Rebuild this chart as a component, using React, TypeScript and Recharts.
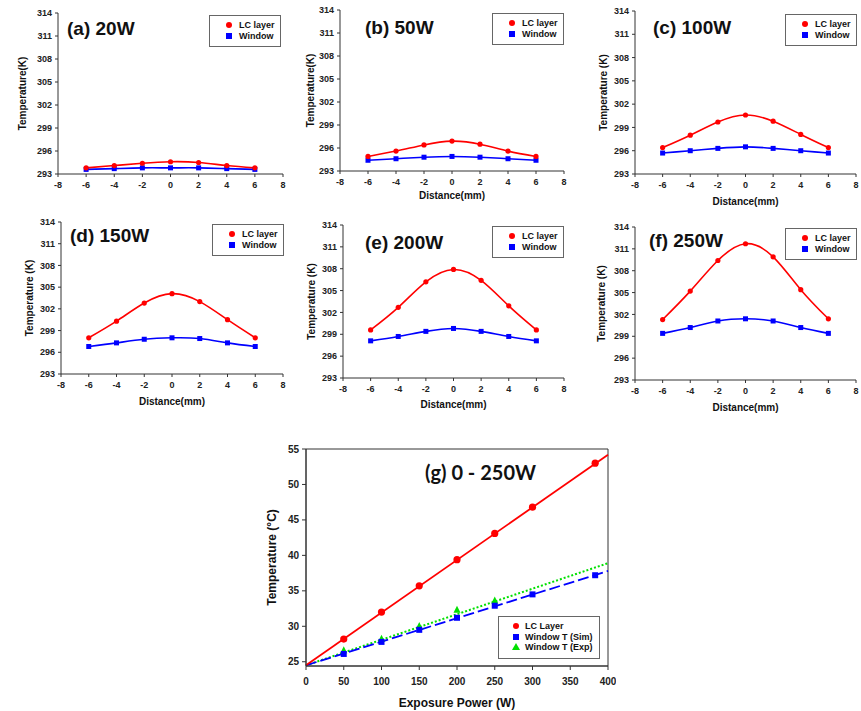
import React from "react";
import { LineChart, Line, XAxis, YAxis, Legend, ReferenceArea } from "recharts";

// ---- data ----
const distance = [-6, -4, -2, 0, 2, 4, 6];
const distanceTicks = [-8, -6, -4, -2, 0, 2, 4, 6, 8];
const kelvinTicks = [293, 296, 299, 302, 305, 308, 311, 314];

const lc20 = [293.8, 294.1, 294.4, 294.6, 294.5, 294.1, 293.8];
const win20 = [293.6, 293.7, 293.8, 293.8, 293.8, 293.7, 293.6];
const lc50 = [294.9, 295.6, 296.4, 296.9, 296.5, 295.6, 294.9];
const win50 = [294.4, 294.6, 294.8, 294.9, 294.8, 294.6, 294.4];
const lc100 = [296.4, 298.0, 299.7, 300.6, 299.8, 298.1, 296.4];
const win100 = [295.7, 296.0, 296.3, 296.5, 296.3, 296.0, 295.7];
const lc150 = [298.0, 300.3, 302.8, 304.1, 303.0, 300.5, 298.0];
const win150 = [296.8, 297.3, 297.8, 298.0, 297.9, 297.3, 296.8];
const lc200 = [299.6, 302.7, 306.2, 307.9, 306.4, 302.9, 299.6];
const win200 = [298.1, 298.7, 299.4, 299.8, 299.4, 298.7, 298.1];
const lc250 = [301.3, 305.2, 309.4, 311.7, 309.9, 305.4, 301.4];
const win250 = [299.4, 300.2, 301.1, 301.4, 301.1, 300.2, 299.4];

const power = [50, 100, 150, 200, 250, 300, 383];
const lcPower = [28.2, 32.0, 35.7, 39.4, 43.1, 46.8, 53.0];
const winSim = [26.1, 27.8, 29.5, 31.2, 32.9, 34.5, 37.2];
const expPower = [50, 100, 150, 200, 250];
const winExp = [26.6, 28.2, 30.0, 32.3, 33.6];
// trend lines, end points
const fitX = [0, 400];
const lcFit = [24.5, 54.2];
const simFit = [24.5, 37.8];
const expFit = [24.5, 38.9];
const powerTicks = [0, 50, 100, 150, 200, 250, 300, 350, 400];
const celsiusTicks = [25, 30, 35, 40, 45, 50, 55];

const FONT = '"Liberation Sans", Arial, sans-serif';
const RED = "#ff0000";
const BLUE = "#0000ff";
const GREEN = "#00e000";
const AXIS = "#333";

// layout of the six profile panels (plot rectangles in page px)
const panels = [
  { title: "(a) 20W", lc: lc20, win: win20, l: 58, r: 283, t: 13, b: 174, yTitle: "Temperature(K)", yDx: 36, xDy: 0, titleX: 67, titleY: 28, legX: 209, legY: 15 },
  { title: "(b) 50W", lc: lc50, win: win50, l: 340, r: 564, t: 10, b: 171, yTitle: "Temperature(K)", yDx: 30, xDy: 24, titleX: 365, titleY: 27, legX: 492, legY: 13 },
  { title: "(c) 100W", lc: lc100, win: win100, l: 635, r: 856, t: 11, b: 174, yTitle: "Temperature (K)", yDx: 32, xDy: 27, titleX: 653, titleY: 27, legX: 785, legY: 14 },
  { title: "(d) 150W", lc: lc150, win: win150, l: 61, r: 283, t: 222, b: 374, yTitle: "Temperature (K)", yDx: 32, xDy: 27, titleX: 70, titleY: 235, legX: 212, legY: 224 },
  { title: "(e) 200W", lc: lc200, win: win200, l: 343, r: 564, t: 225, b: 378, yTitle: "Temperature (K)", yDx: 32, xDy: 26, titleX: 365, titleY: 242, legX: 492, legY: 226 },
  { title: "(f) 250W", lc: lc250, win: win250, l: 635, r: 856, t: 227, b: 380, yTitle: "Temperature (K)", yDx: 34, xDy: 27, titleX: 649, titleY: 240, legX: 785, legY: 228 },
];

const circleDot = (r: number, color: string) => (props: any) => {
  if (props.cx == null || props.cy == null) return <g key={`c${props.index}`} />;
  return <circle key={`c${props.index}`} cx={props.cx} cy={props.cy} r={r} fill={color} />;
};
const squareDot = (s: number, color: string) => (props: any) => {
  if (props.cx == null || props.cy == null) return <g key={`s${props.index}`} />;
  return <rect key={`s${props.index}`} x={props.cx - s / 2} y={props.cy - s / 2} width={s} height={s} fill={color} />;
};
const triDot = (s: number, color: string) => (props: any) => {
  if (props.cx == null || props.cy == null) return <g key={`t${props.index}`} />;
  const { cx, cy } = props;
  const pts = `${cx},${cy - s * 0.6} ${cx - s / 2},${cy + s * 0.4} ${cx + s / 2},${cy + s * 0.4}`;
  return <polygon key={`t${props.index}`} points={pts} fill={color} />;
};

function Marker({ kind, color }: { kind: string; color: string }) {
  return (
    <svg width={8} height={8} style={{ display: "block" }}>
      {kind === "circle" && <circle cx={4} cy={4} r={3} fill={color} />}
      {kind === "square" && <rect x={1} y={1} width={6} height={6} fill={color} />}
      {kind === "tri" && <polygon points="4,0 0,7 8,7" fill={color} />}
    </svg>
  );
}

function LegendBox({ items, width, padL, gap }: any) {
  return (
    <div
      style={{
        width,
        boxSizing: "border-box",
        border: "1px solid #666",
        background: "#fff",
        padding: `4px 4px 5px ${padL}px`,
        fontFamily: FONT,
        fontWeight: "bold",
        fontSize: 9,
        lineHeight: "10.5px",
        color: "#111",
      }}
    >
      {items.map((it: any) => (
        <div key={it.name} style={{ display: "flex", alignItems: "center" }}>
          <Marker kind={it.kind} color={it.color} />
          <span style={{ marginLeft: gap }}>{it.name}</span>
        </div>
      ))}
    </div>
  );
}

const tickStyle = { fontSize: 9, fontWeight: "bold", fill: "#222", fontFamily: FONT };

function ProfilePanel({ p }: { p: (typeof panels)[number] }) {
  const YW = 58, MT = 8, MR = 5, XH = 36;
  const w = p.r - p.l + YW + MR;
  const h = p.b - p.t + MT + XH;
  const left = p.l - YW;
  const top = p.t - MT;
  const data = distance.map((d, i) => ({ d, lc: p.lc[i], win: p.win[i] }));
  return (
    <>
      <div style={{ position: "absolute", left, top }}>
        <LineChart width={w} height={h} data={data} margin={{ top: MT, right: MR, left: 0, bottom: 0 }}>
          <XAxis
            type="number"
            dataKey="d"
            domain={[-8, 8]}
            ticks={distanceTicks}
            height={XH}
            tickSize={3}
            tickMargin={5}
            stroke={AXIS}
            tick={tickStyle}
            label={
              p.xDy
                ? {
                    value: "Distance(mm)",
                    position: "insideBottom",
                    offset: XH - (p.xDy + 3.5),
                    style: { fontSize: 10, fontWeight: "bold", fill: "#111", fontFamily: FONT },
                  }
                : undefined
            }
          />
          <YAxis
            type="number"
            domain={[293, 314]}
            ticks={kelvinTicks}
            width={YW}
            tickSize={3}
            tickMargin={3}
            stroke={AXIS}
            tick={tickStyle}
            label={{
              value: p.yTitle,
              angle: -90,
              position: "insideLeft",
              offset: YW - p.yDx,
              style: { textAnchor: "middle", fontSize: 10, fontWeight: "bold", fill: "#111", fontFamily: FONT },
            }}
          />
          <Legend
            layout="vertical"
            align="center"
            verticalAlign="middle"
            wrapperStyle={{ left: p.legX - left, top: p.legY - top, width: 72 }}
            content={() => (
              <LegendBox
                width={72}
                padL={15}
                gap={6}
                items={[
                  { name: "LC layer", kind: "circle", color: RED },
                  { name: "Window", kind: "square", color: BLUE },
                ]}
              />
            )}
          />
          <Line type="natural" dataKey="win" stroke={BLUE} strokeWidth={1.6} dot={squareDot(5, BLUE)} isAnimationActive={false} />
          <Line type="natural" dataKey="lc" stroke={RED} strokeWidth={1.6} dot={circleDot(2.6, RED)} isAnimationActive={false} />
        </LineChart>
      </div>
      <div
        style={{
          position: "absolute",
          left: p.titleX,
          top: p.titleY - 9,
          fontFamily: FONT,
          fontWeight: "bold",
          fontSize: 19,
          lineHeight: "19px",
          color: "#111",
          whiteSpace: "nowrap",
        }}
      >
        {p.title}
      </div>
    </>
  );
}

function PowerPanel() {
  const L = 306, R = 608, T = 449, B = 666;
  const YW = 50, MT = 8, MR = 8, XH = 46;
  const left = L - YW;
  const top = T - MT;
  const lcPts = power.map((x, i) => ({ x, y: lcPower[i] }));
  const simPts = power.map((x, i) => ({ x, y: winSim[i] }));
  const expPts = expPower.map((x, i) => ({ x, y: winExp[i] }));
  const lcLine = fitX.map((x, i) => ({ x, y: lcFit[i] }));
  const simLine = fitX.map((x, i) => ({ x, y: simFit[i] }));
  const expLine = fitX.map((x, i) => ({ x, y: expFit[i] }));
  const gTick = { fontSize: 10, fontWeight: "bold", fill: "#222", fontFamily: FONT };
  return (
    <>
      <div style={{ position: "absolute", left, top }}>
        <LineChart width={R - L + YW + MR} height={B - T + MT + XH} margin={{ top: MT, right: MR, left: 0, bottom: 0 }}>
          <XAxis
            type="number"
            dataKey="x"
            domain={[0, 400]}
            ticks={powerTicks}
            height={XH}
            tickSize={4}
            tickMargin={8}
            stroke={AXIS}
            tick={gTick}
            label={{
              value: "Exposure Power (W)",
              position: "insideBottom",
              offset: XH - 41,
              style: { fontSize: 12, fontWeight: "bold", fill: "#111", fontFamily: FONT },
            }}
          />
          <YAxis
            type="number"
            domain={[24.4, 55]}
            ticks={celsiusTicks}
            width={YW}
            tickSize={4}
            tickMargin={3}
            stroke={AXIS}
            tick={gTick}
            label={{
              value: "Temperature (°C)",
              angle: -90,
              position: "insideLeft",
              offset: YW - 34,
              style: { textAnchor: "middle", fontSize: 12, fontWeight: "bold", fill: "#111", fontFamily: FONT },
            }}
          />
          <ReferenceArea x1={0} x2={400} y1={24.4} y2={55} fill="none" stroke={AXIS} strokeWidth={1} ifOverflow="visible" />
          <Legend
            layout="vertical"
            align="center"
            verticalAlign="middle"
            wrapperStyle={{ left: 498 - left, top: 616 - top, width: 102 }}
            content={() => (
              <LegendBox
                width={102}
                padL={13}
                gap={5}
                items={[
                  { name: "LC Layer", kind: "circle", color: RED },
                  { name: "Window T (Sim)", kind: "square", color: BLUE },
                  { name: "Window T (Exp)", kind: "tri", color: GREEN },
                ]}
              />
            )}
          />
          <Line data={expLine} dataKey="y" stroke={GREEN} strokeWidth={2} strokeDasharray="2 2" dot={false} legendType="none" isAnimationActive={false} />
          <Line data={simLine} dataKey="y" stroke={BLUE} strokeWidth={1.8} strokeDasharray="11 4" dot={false} legendType="none" isAnimationActive={false} />
          <Line data={lcLine} dataKey="y" stroke={RED} strokeWidth={1.8} dot={false} legendType="none" isAnimationActive={false} />
          <Line data={expPts} dataKey="y" stroke="none" dot={triDot(7, GREEN)} isAnimationActive={false} />
          <Line data={simPts} dataKey="y" stroke="none" dot={squareDot(6, BLUE)} isAnimationActive={false} />
          <Line data={lcPts} dataKey="y" stroke="none" dot={circleDot(3.6, RED)} isAnimationActive={false} />
        </LineChart>
      </div>
      <div
        style={{
          position: "absolute",
          left: 425,
          top: 473 - 11,
          fontFamily: "Lato, 'Open Sans', sans-serif",
          fontWeight: "bold",
          fontSize: 20,
          lineHeight: "20px",
          color: "#111",
          whiteSpace: "nowrap",
        }}
      >
        (g) 0 - 250W
      </div>
    </>
  );
}

export default function App() {
  return (
    <div
      style={{
        position: "absolute",
        left: 0,
        top: 0,
        width: 861,
        height: 711,
        overflow: "hidden",
        background: "#fff",
      }}
    >
      {panels.map((p) => (
        <ProfilePanel key={p.title} p={p} />
      ))}
      <PowerPanel />
    </div>
  );
}
